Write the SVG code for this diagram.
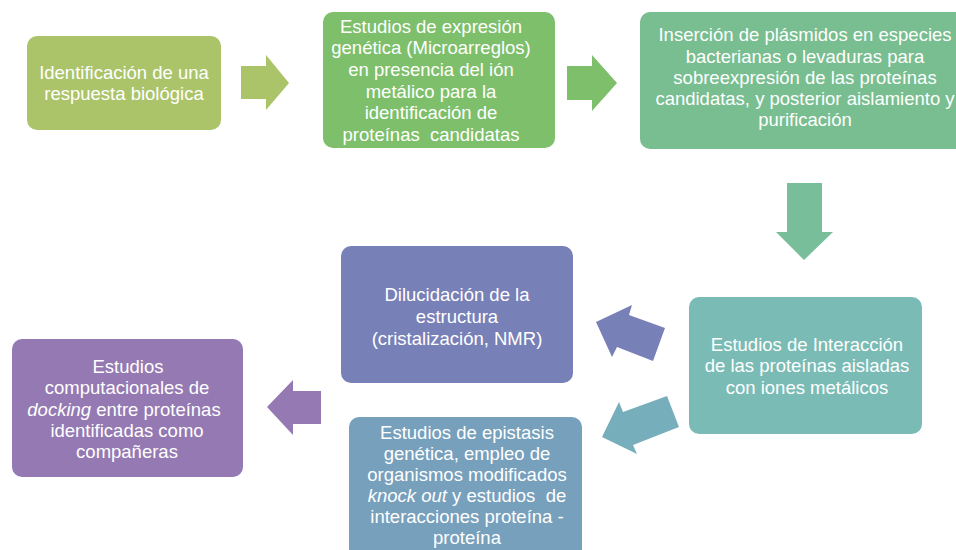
<svg xmlns="http://www.w3.org/2000/svg" width="956" height="550" viewBox="0 0 956 550">
<style>
text{font-family:"Liberation Sans",Arial,sans-serif;font-size:18.5px;fill:#ffffff;text-anchor:middle;white-space:pre}
.it{font-style:italic}
</style>
<rect width="956" height="550" fill="#ffffff"/>
<g id="connectors">
<polygon points="241,66 266,66 266,55 289,83 266,110 266,99 241,99" fill="#abc46a"/>
<polygon points="567,66 592,66 592,55 617,83 592,111 592,100 567,100" fill="#7dbf6b"/>
<polygon points="787,183 822,183 822,232 833,232 804,260 776,232 787,232" fill="#78be9b"/>
<polygon points="596,322 632,305 629,315 665,328 653,361 617,347 612,357" fill="#7880b8"/>
<polygon points="602,437 619,402 623,412 667,396 679,427 633,445 637,454" fill="#77aebb"/>
<polygon points="267,407 293,380 293,391 321,391 321,424 293,424 293,435" fill="#9479b3"/>
</g>
<g id="n1">
<rect x="27" y="36" width="194" height="94" rx="10" fill="#abc46a"/>
<text x="124" y="79">Identificación de una</text>
<text x="124" y="100">respuesta biológica</text>
</g>
<g id="n2">
<rect x="323" y="12" width="232" height="136" rx="10" fill="#7dbf6b"/>
<text x="431" y="33">Estudios de expresión</text>
<text x="431" y="54">genética (Microarreglos)</text>
<text x="431" y="76">en presencia del ión</text>
<text x="431" y="98">metálico para la</text>
<text x="431" y="119">identificación de</text>
<text x="431" y="141">proteínas  candidatas</text>
</g>
<g id="n3">
<rect x="640" y="12" width="330" height="137" rx="10" fill="#78be90"/>
<text x="805" y="41">Inserción de plásmidos en especies</text>
<text x="805" y="63">bacterianas o levaduras para</text>
<text x="805" y="84">sobreexpresión de las proteínas</text>
<text x="805" y="105">candidatas, y posterior aislamiento y</text>
<text x="805" y="126">purificación</text>
</g>
<g id="n4">
<rect x="341" y="246" width="232" height="137" rx="10" fill="#7880b8"/>
<text x="457" y="301">Dilucidación de la</text>
<text x="457" y="323">estructura</text>
<text x="457" y="345">(cristalización, NMR)</text>
</g>
<g id="n5">
<rect x="689" y="297" width="233" height="137" rx="10" fill="#7abcb5"/>
<text x="807" y="351">Estudios de Interacción</text>
<text x="807" y="372">de las proteínas aisladas</text>
<text x="807" y="394">con iones metálicos</text>
</g>
<g id="n6">
<rect x="349" y="417" width="233" height="145" rx="10" fill="#77a0bd"/>
<text x="467" y="439">Estudios de epistasis</text>
<text x="467" y="460">genética, empleo de</text>
<text x="467" y="481">organismos modificados</text>
<text x="467" y="502"><tspan class="it">knock out</tspan> y estudios  de</text>
<text x="467" y="523">interacciones proteína -</text>
<text x="467" y="544">proteína</text>
</g>
<g id="n7">
<rect x="12" y="339" width="231" height="138" rx="10" fill="#9479b3"/>
<text x="128" y="373">Estudios</text>
<text x="127" y="394">computacionales de</text>
<text x="124" y="416"><tspan class="it">docking</tspan> entre proteínas</text>
<text x="127" y="437">identificadas como</text>
<text x="127" y="458">compañeras</text>
</g>
</svg>
